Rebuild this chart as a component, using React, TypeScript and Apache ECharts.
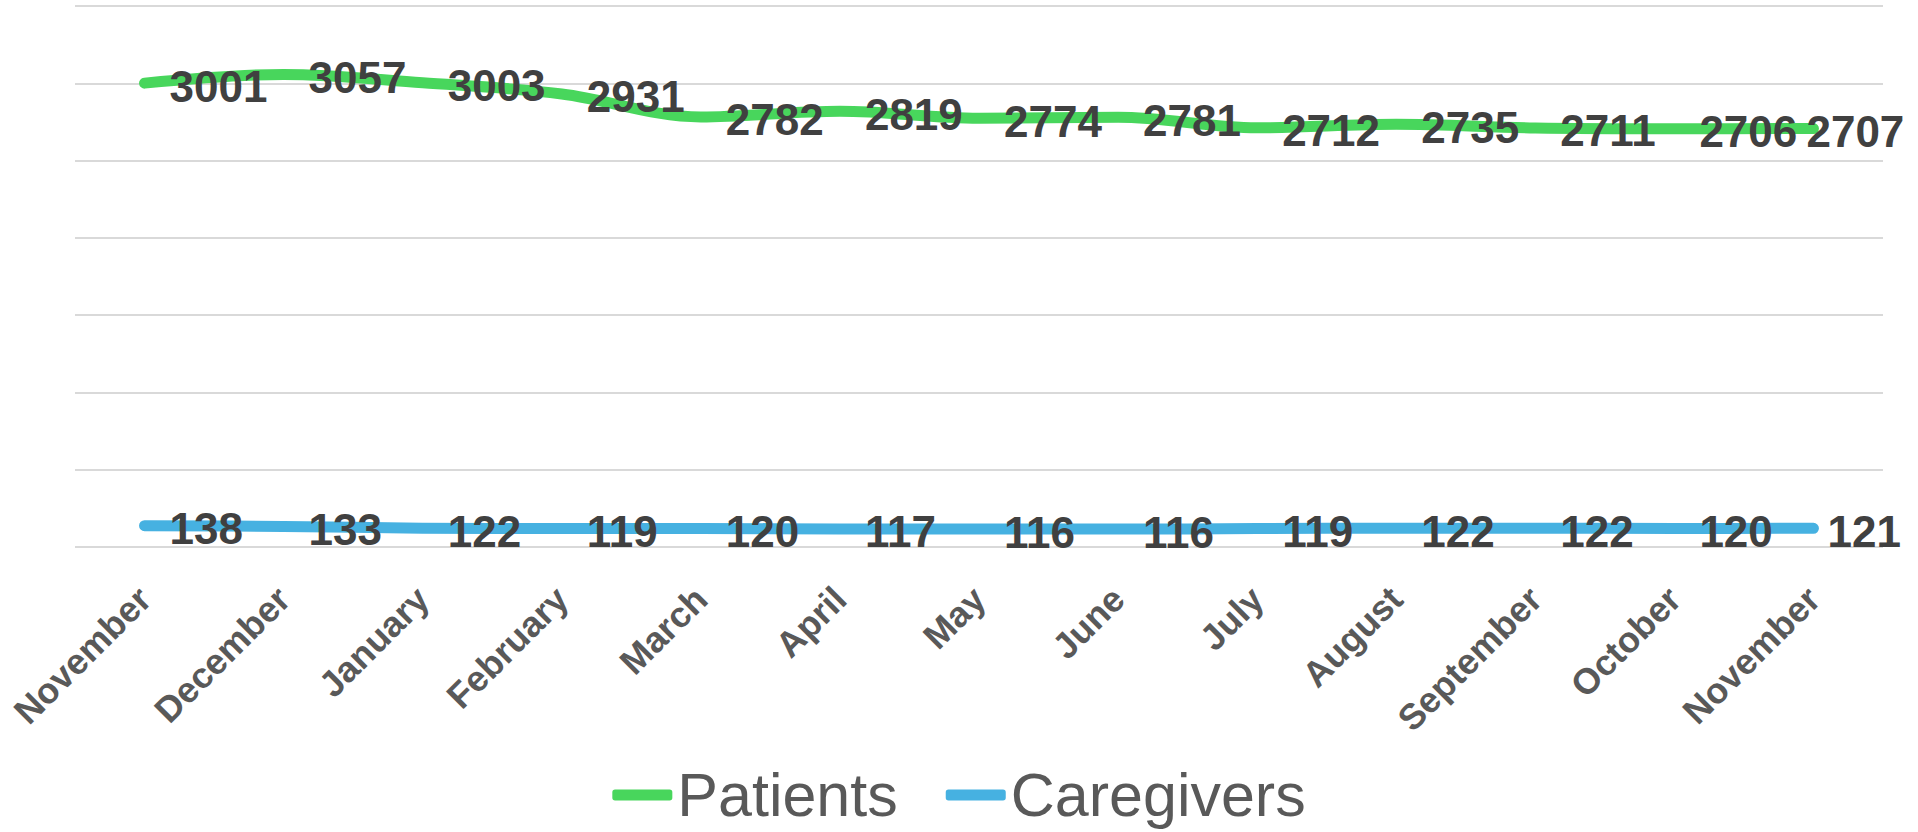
import React, { useEffect, useRef } from "react";
import * as echarts from "echarts";

const categories = [
  "November", "December", "January", "February", "March", "April", "May",
  "June", "July", "August", "September", "October", "November",
];
const patients = [3001, 3057, 3003, 2931, 2782, 2819, 2774, 2781, 2712, 2735, 2711, 2706, 2707];
const caregivers = [138, 133, 122, 119, 120, 117, 116, 116, 119, 122, 122, 120, 121];
const yMin = 0;
const yMax = 3500;
const yInterval = 500;

const FONT = "'Liberation Sans', Arial, Helvetica, sans-serif";
const GREEN = "#48d65c";
const BLUE = "#46b1e1";

function withLastOffset(values: number[], lastDx: number) {
  return values.map((v, i) =>
    i === values.length - 1 ? { value: v, label: { offset: [lastDx, 3] } } : v
  );
}

export default function App() {
  const ref = useRef<HTMLDivElement>(null);
  useEffect(() => {
    if (!ref.current) return;
    const chart = echarts.init(ref.current, undefined, { renderer: "svg" });
    const labelStyle = {
      show: true,
      position: "right" as const,
      distance: 24,
      offset: [0, 3],
      fontFamily: FONT,
      fontWeight: "bold" as const,
      fontSize: 44,
      color: "#404040",
    };
    chart.setOption({
      animation: false,
      backgroundColor: "#ffffff",
      grid: { left: 75, right: 35, top: 6, bottom: 285, containLabel: false },
      legend: {
        top: 758,
        left: "center",
        icon: "roundRect",
        itemWidth: 60,
        itemHeight: 11,
        itemGap: 48,
        textStyle: { fontFamily: FONT, fontSize: 61, color: "#595959", lineHeight: 64 },
        data: [
          { name: "Patients", itemStyle: { color: GREEN, opacity: 1 } },
          { name: "Caregivers", itemStyle: { color: BLUE, opacity: 1 } },
        ],
      },
      xAxis: {
        type: "category",
        data: categories,
        boundaryGap: true,
        axisLine: { show: false },
        axisTick: { show: false },
        axisLabel: {
          rotate: 45,
          margin: 46,
          interval: 0,
          fontFamily: FONT,
          fontWeight: "bold",
          fontSize: 36,
          color: "#595959",
        },
      },
      yAxis: {
        type: "value",
        min: yMin,
        max: yMax,
        interval: yInterval,
        axisLabel: { show: false },
        axisLine: { show: false },
        axisTick: { show: false },
        splitLine: { show: true, lineStyle: { color: "#d9d9d9", width: 2 } },
      },
      series: [
        {
          name: "Patients",
          type: "line",
          data: withLastOffset(patients, -32),
          smooth: 0.35,
          symbol: "circle",
          symbolSize: 2,
          showSymbol: true,
          itemStyle: { color: "rgba(0,0,0,0)" },
          lineStyle: { color: GREEN, width: 11, cap: "round", join: "round" },
          label: labelStyle,
          z: 3,
        },
        {
          name: "Caregivers",
          type: "line",
          data: withLastOffset(caregivers, -11),
          smooth: 0.35,
          symbol: "circle",
          symbolSize: 2,
          showSymbol: true,
          itemStyle: { color: "rgba(0,0,0,0)" },
          lineStyle: { color: BLUE, width: 11, cap: "round", join: "round" },
          label: labelStyle,
          z: 3,
        },
      ],
    });
    return () => chart.dispose();
  }, []);
  return (
    <div
      ref={ref}
      style={{ position: "fixed", left: 0, top: 0, width: 1918, height: 832, background: "#fff" }}
    />
  );
}
